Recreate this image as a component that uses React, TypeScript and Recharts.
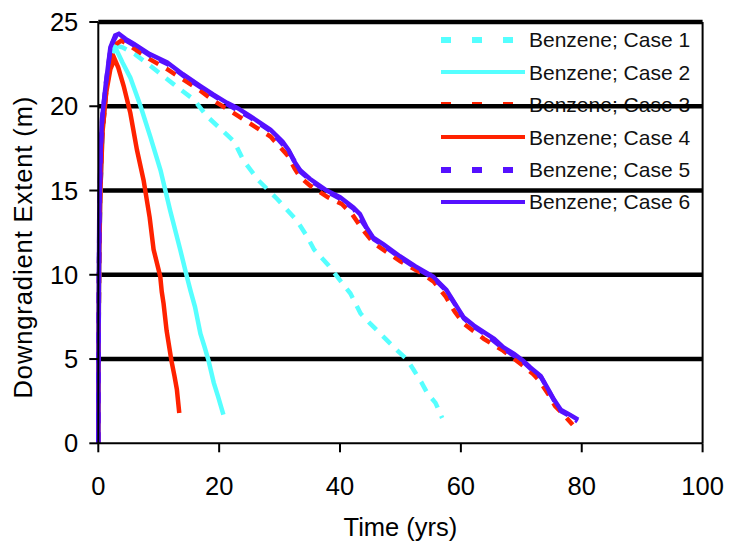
import { LineChart, Line, XAxis, YAxis, CartesianGrid, ReferenceLine, Legend, Label, Text } from 'recharts'

const FONT = '"Liberation Sans", Arial, sans-serif'

const xTicks = [0, 20, 40, 60, 80, 100]
const yTicks = [0, 5, 10, 15, 20, 25]
const gridValues = [5, 10, 15, 20, 25]

const seriesNames = [
  'Benzene; Case 1',
  'Benzene; Case 2',
  'Benzene; Case 3',
  'Benzene; Case 4',
  'Benzene; Case 5',
  'Benzene; Case 6',
]

// [time (yrs), downgradient extent (m)]
const case1 = [
  [0, 0], [0.05, 6], [0.15, 11], [0.35, 15], [0.7, 18.5], [1.3, 21], [2, 22.8], [2.8, 23.6],
  [4, 23.5], [6, 23.1], [8.6, 22.4], [10, 22.0], [12.5, 21.3], [15.8, 20.4], [18, 19.4],
  [21, 18.4], [22.5, 17.9], [24, 16.8], [26.5, 15.6], [29.6, 14.5], [32.9, 13.2], [34.5, 12.3],
  [35.7, 11.5], [38, 10.6], [39.5, 9.9], [41.7, 8.9], [43.4, 7.7], [45, 7.1], [46.7, 6.5],
  [49.5, 5.5], [51, 5.0], [52.2, 4.35], [53.5, 3.6], [54.4, 3.0], [55.8, 2.4], [56.9, 1.5],
]

const case2 = [
  [0, 0], [0.05, 6], [0.15, 11], [0.35, 15], [0.7, 18.5], [1.3, 21], [2, 22.8], [2.8, 23.5],
  [4, 22.6], [5.3, 21.7], [7, 20], [8.6, 18.2], [10.3, 16.2], [11.9, 13.8], [13.55, 11.5],
  [14.65, 9.9], [15.3, 9.0], [16, 8.1], [16.9, 6.5], [17.6, 5.7], [18.25, 4.9], [19.1, 3.6],
  [19.8, 2.8], [20.7, 1.7],
]

const case3 = [
  [0, 0], [0.05, 6], [0.15, 11], [0.3, 14.5], [0.6, 18], [1.2, 20.5], [2, 22.8], [3, 23.7],
  [3.8, 23.9], [4.8, 23.7], [6, 23.4], [8.5, 22.8], [11.4, 22.2], [14, 21.6], [17, 20.9],
  [19.2, 20.3], [21.5, 19.8], [25, 19.0], [28.5, 18.2], [31.3, 17.1], [32.5, 16.3], [33.4, 15.8],
  [35, 15.3], [38, 14.6], [40.3, 14.2], [42, 13.6], [43.5, 12.8], [45.5, 11.9], [47.5, 11.4],
  [50, 10.8], [53, 10.2], [55.5, 9.6], [57.5, 8.7], [59, 7.8], [60.5, 7.1], [63.8, 6.2],
  [67, 5.5], [70.3, 4.6], [72, 4.1], [73, 3.7], [74.5, 2.9], [75.6, 2.2], [77, 1.7], [78.5, 1.1],
]

const case4 = [
  [0, 0], [0.05, 6], [0.15, 11], [0.35, 15], [0.7, 18.5], [1.3, 20.8], [2, 22.2], [2.7, 22.8],
  [3.3, 22.3], [4.2, 21.2], [5.3, 19.6], [6.4, 17.4], [7.5, 15.6], [8.5, 13.4], [9.15, 11.5],
  [10.25, 9.9], [10.5, 9.0], [10.8, 8.3], [11.3, 6.7], [12.1, 4.9], [12.6, 4.0], [13, 3.2],
  [13.4, 1.8],
]

const case5 = [
  [0, 0], [0.03, 4], [0.1, 10], [0.2, 14], [0.4, 17.5], [0.7, 19.5], [1.3, 21.5], [2.1, 23.6],
  [3, 24.2], [3.6, 24.2], [4.6, 23.9], [6, 23.6], [8.6, 23.0], [11.5, 22.5], [14.1, 21.8],
  [17, 21.1], [19.2, 20.6], [21.4, 20.1], [25.3, 19.3], [28.6, 18.5], [31.6, 17.3], [33.5, 16.1],
  [35.1, 15.6], [38, 14.9], [40.1, 14.5], [42.3, 13.9], [44.5, 12.7], [45.6, 12.1], [47.3, 11.7],
  [50, 11.0], [52.6, 10.4], [55.5, 9.8], [57.7, 9.0], [59.1, 8.2], [60.5, 7.4], [62.2, 6.9],
  [63.9, 6.5], [67.1, 5.6], [70.4, 4.8], [71.6, 4.4], [73.3, 3.9], [75.5, 2.5], [76.6, 1.9],
  [78.1, 1.6], [79.3, 1.3],
]

const case6 = [
  [0, 0], [0.02, 3.8], [0.08, 9], [0.15, 13.2], [0.35, 17], [0.6, 19.2], [1.2, 21.2], [2, 23.5],
  [2.8, 24.2], [3.4, 24.3], [4.5, 24.0], [5.9, 23.7], [8.5, 23.1], [11.4, 22.6], [14, 21.9],
  [16.9, 21.2], [19, 20.7], [21.3, 20.2], [23, 19.9], [25.2, 19.4], [28.5, 18.6], [30.5, 17.9],
  [31.5, 17.4], [32.3, 16.8], [33.4, 16.2], [35, 15.7], [37.8, 15.0], [40, 14.6], [42.2, 14.0],
  [43.3, 13.6], [44.4, 12.8], [45.5, 12.2], [47.2, 11.8], [49.9, 11.1], [52.5, 10.5], [55.4, 9.9],
  [56.5, 9.5], [57.6, 9.1], [59, 8.3], [60.4, 7.5], [62.1, 7.0], [63.8, 6.6], [65.5, 6.2],
  [67, 5.7], [68.8, 5.3], [70.3, 4.9], [71.5, 4.5], [73.2, 4.0], [74.3, 3.3], [75.4, 2.6],
  [76.5, 2.0], [78, 1.7], [79.4, 1.4],
]

const CYAN = '#55ffff'
const RED = '#ff2200'
const PURPLE = '#5511ff'

const SERIES = [
  { name: seriesNames[0], pts: case1, color: CYAN, dashed: true },
  { name: seriesNames[1], pts: case2, color: CYAN, dashed: false },
  { name: seriesNames[2], pts: case3, color: RED, dashed: true },
  { name: seriesNames[3], pts: case4, color: RED, dashed: false },
  { name: seriesNames[4], pts: case5, color: PURPLE, dashed: true },
  { name: seriesNames[5], pts: case6, color: PURPLE, dashed: false },
]

const toRows = (pts: number[][]) => pts.map(([x, y]) => ({ x, y }))

const tickStyle = { fill: '#000', fontSize: 25.5, fontFamily: FONT }

// legend sits under the svg so the gridlines run across it, like the original
const renderLegend = () => (
  <div style={{ fontFamily: FONT, fontSize: 21, color: '#111' }}>
    {SERIES.map((s) => (
      <div key={s.name} style={{ display: 'flex', alignItems: 'center', height: 32.4 }}>
        <svg width={84} height={8} style={{ display: 'block' }}>
          <line
            x1={0}
            y1={4}
            x2={84}
            y2={4}
            stroke={s.color}
            strokeWidth={s.dashed ? 6 : 4}
            strokeDasharray={s.dashed ? '10 21' : undefined}
          />
        </svg>
        <span style={{ marginLeft: 4, lineHeight: 1, whiteSpace: 'nowrap' }}>{s.name}</span>
      </div>
    ))}
  </div>
)

// y title sits a bit below the plot's middle in the original
const renderYTitle = (props: any) => {
  const vb = props.viewBox || {}
  return (
    <Text
      x={22.5}
      y={vb.y + vb.height / 2 + 14.5}
      angle={-90}
      textAnchor="middle"
      verticalAnchor="middle"
      fill="#000"
      fontSize={25.5}
      fontFamily={FONT}
      style={{ letterSpacing: 0.9 }}
    >
      Downgradient Extent (m)
    </Text>
  )
}

export default function App() {
  return (
    <div style={{ position: 'absolute', left: 0, top: 0, background: 'transparent' }}>
      <LineChart width={729} height={541} margin={{ top: 22, right: 26.4, bottom: 0, left: 0 }}>
        <CartesianGrid
          vertical={false}
          horizontalValues={gridValues}
          stroke="#000"
          strokeWidth={4.5}
        />
        <XAxis
          dataKey="x"
          type="number"
          domain={[0, 100]}
          ticks={xTicks}
          interval={0}
          height={97.7}
          tickSize={9}
          tickMargin={24.5}
          tick={tickStyle}
          axisLine={{ stroke: '#000', strokeWidth: 2 }}
          tickLine={{ stroke: '#000', strokeWidth: 2 }}
          label={{ value: 'Time (yrs)', position: 'insideBottom', offset: 5, fill: '#000', fontSize: 25.5, fontFamily: FONT }}
        />
        <YAxis
          dataKey="y"
          type="number"
          domain={[0, 25]}
          ticks={yTicks}
          interval={0}
          width={98.3}
          tickSize={9}
          tickMargin={11}
          tick={tickStyle}
          axisLine={{ stroke: '#000', strokeWidth: 2 }}
          tickLine={{ stroke: '#000', strokeWidth: 2 }}
        >
          <Label position="insideLeft" content={renderYTitle} />
        </YAxis>
        <ReferenceLine x={100} stroke="#000" strokeWidth={2} />
        <Legend
          layout="vertical"
          verticalAlign="middle"
          align="center"
          content={renderLegend}
          wrapperStyle={{ left: 441, top: 23.8, width: 270, zIndex: -1 }}
        />
        {SERIES.map((s) => (
          <Line
            key={s.name}
            data={toRows(s.pts)}
            dataKey="y"
            name={s.name}
            type="linear"
            stroke={s.color}
            strokeWidth={4.5}
            strokeDasharray={s.dashed ? '11 9' : undefined}
            dot={false}
            activeDot={false}
            isAnimationActive={false}
          />
        ))}
      </LineChart>
    </div>
  )
}
